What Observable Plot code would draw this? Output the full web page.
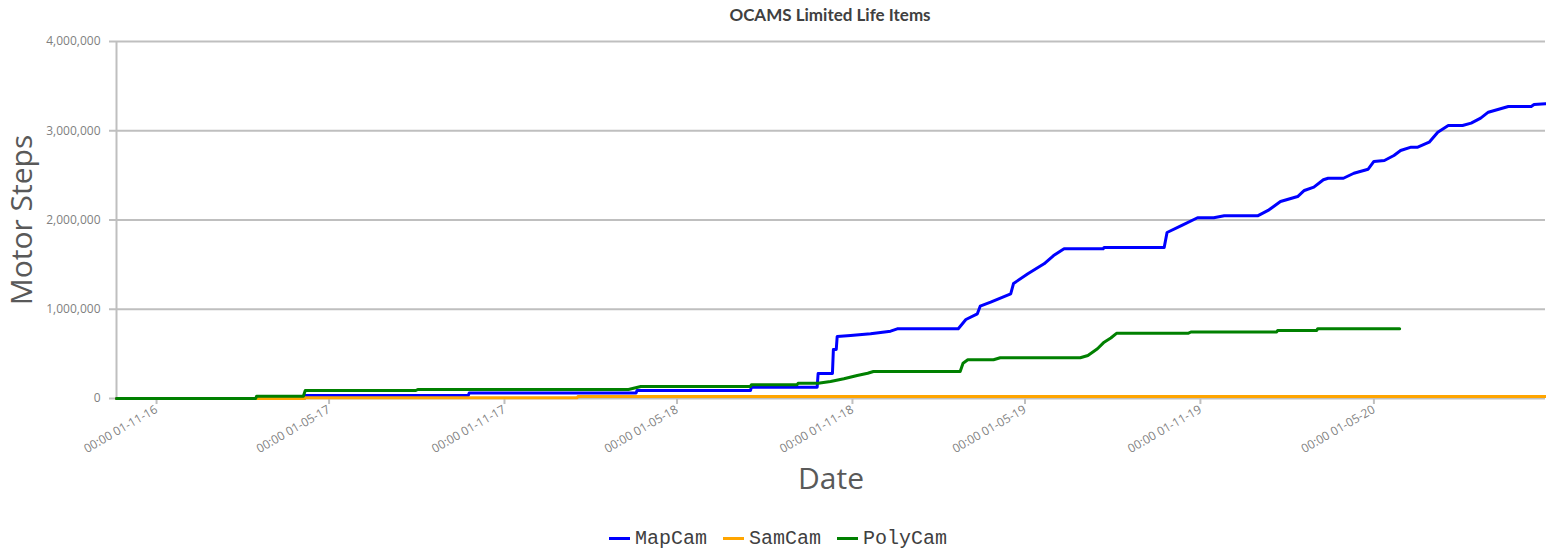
<!DOCTYPE html>
<html>
<head>
<meta charset="utf-8">
<script src="https://cdn.jsdelivr.net/npm/d3@7"></script>
<script src="https://cdn.jsdelivr.net/npm/@observablehq/plot@0.6"></script>
<style>
  body { margin: 0; background: #fff; width: 1546px; font-family: "Open Sans", sans-serif; }
  #title { height: 30px; line-height: 30px; text-align: center; padding-left: 114px; font-family: Lato, "Open Sans", sans-serif; font-weight: bold; font-size: 17px; color: #404040; }
  #chart { height: 480px; }
  #legend { height: 41px; box-sizing: border-box; padding-top: 16px; padding-left: 10px; display: flex; justify-content: center; align-items: center; font-family: "Liberation Mono", "DejaVu Sans Mono", monospace; font-size: 20px; color: #404040; }
  .item { display: flex; align-items: center; margin: 0 8px; }
  .sw { display: inline-block; width: 21px; height: 3px; margin-right: 5px; }
</style>
</head>
<body>
<div id="title">OCAMS Limited Life Items</div>
<div id="chart"></div>
<div id="legend"></div>
<script>
const seriesNames = ["MapCam", "SamCam", "PolyCam"];
const seriesColors = ["#0000ff", "#ffa500", "#008000"];

const mapCamDates = ["2016-09-20","2017-04-05","2017-04-06","2017-09-24","2017-09-25","2018-03-19","2018-03-20","2018-07-17","2018-07-18","2018-09-25","2018-09-26","2018-10-11","2018-10-12","2018-10-15","2018-10-16","2018-10-30","2018-11-20","2018-12-11","2018-12-18","2019-02-20","2019-02-28","2019-03-12","2019-03-15","2019-03-26","2019-04-16","2019-04-19","2019-05-04","2019-05-21","2019-05-31","2019-06-11","2019-07-22","2019-07-23","2019-09-24","2019-09-27","2019-10-12","2019-10-29","2019-11-15","2019-11-26","2019-12-31","2020-01-11","2020-01-24","2020-02-11","2020-02-18","2020-02-28","2020-03-09","2020-03-14","2020-03-30","2020-04-10","2020-04-25","2020-05-01","2020-05-12","2020-05-22","2020-05-29","2020-06-09","2020-06-16","2020-06-28","2020-07-07","2020-07-18","2020-08-02","2020-08-11","2020-08-21","2020-08-29","2020-09-19","2020-10-13","2020-10-16","2020-10-28"];
const mapCamSteps = [0,0,34000,34000,62000,62000,90000,90000,127000,127000,280000,280000,549000,549000,695000,706000,725000,754000,781000,781000,885000,949000,1034000,1079000,1173000,1289000,1397000,1509000,1602000,1677000,1677000,1692000,1692000,1860000,1938000,2025000,2025000,2047000,2047000,2107000,2207000,2263000,2331000,2368000,2451000,2468000,2468000,2524000,2569000,2656000,2667000,2723000,2779000,2816000,2816000,2872000,2984000,3059000,3059000,3085000,3141000,3208000,3272000,3272000,3294000,3302000];

const samCamDates = ["2016-09-20","2017-04-05","2017-04-06","2018-01-16","2018-01-17","2020-10-28"];
const samCamSteps = [0,0,8000,8000,22000,22000];

const polyCamDates = ["2016-09-20","2017-02-13","2017-02-14","2017-04-04","2017-04-06","2017-07-31","2017-08-02","2018-03-11","2018-03-24","2018-07-17","2018-07-18","2018-09-04","2018-09-05","2018-09-26","2018-10-09","2018-10-23","2018-11-06","2018-11-17","2018-11-23","2019-02-22","2019-02-25","2019-03-02","2019-03-29","2019-04-05","2019-06-28","2019-07-06","2019-07-16","2019-07-23","2019-07-30","2019-08-05","2019-10-19","2019-10-22","2020-01-20","2020-01-21","2020-03-02","2020-03-03","2020-05-28"];
const polyCamSteps = [0,0,26000,26000,90000,90000,101000,101000,134000,134000,155000,155000,171000,171000,190000,221000,258000,283000,302000,302000,395000,434000,434000,456000,456000,482000,557000,631000,678000,730000,730000,745000,745000,762000,762000,781000,781000];

const yTicks = [0, 1000000, 2000000, 3000000, 4000000];
const xTickDates = ["2016-11-01","2017-05-01","2017-11-01","2018-05-01","2018-11-01","2019-05-01","2019-11-01","2020-05-01"];

const parse = d3.utcParse("%Y-%m-%d");
function build(name, dates, steps) {
  return dates.map((d, i) => ({camera: name, date: parse(d), steps: steps[i]}));
}
const rows = [
  ...build("MapCam", mapCamDates, mapCamSteps),
  ...build("SamCam", samCamDates, samCamSteps),
  ...build("PolyCam", polyCamDates, polyCamSteps)
];
const xTicks = xTickDates.map(parse);
const xExtent = d3.extent(rows, d => d.date);

const chart = Plot.plot({
  width: 1546,
  height: 480,
  marginTop: 11,
  marginBottom: 112,
  marginLeft: 116,
  marginRight: 1,
  style: {fontFamily: '"Open Sans", sans-serif', background: "white"},
  x: {type: "utc", domain: xExtent},
  y: {domain: [0, 4000000]},
  color: {domain: seriesNames, range: seriesColors},
  marks: [
    Plot.gridY({ticks: yTicks, stroke: "#bfbfbf", strokeOpacity: 1, strokeWidth: 2}),
    Plot.ruleX([xExtent[0]], {stroke: "#bfbfbf", strokeWidth: 2}),
    Plot.axisY({ticks: yTicks, tickFormat: d3.format(","), tickSize: 7, tickPadding: 9, stroke: "#bfbfbf", strokeWidth: 2, fill: "#7f7f7f", fontSize: 12, label: null}),
    Plot.axisX({ticks: xTicks, tickFormat: d3.utcFormat("%H:%M %d-%m-%y"), tickSize: 6, tickPadding: 4, tickRotate: -30, stroke: "#bfbfbf", strokeWidth: 2, fill: "#7f7f7f", fontSize: 12, label: null}),
    Plot.line(rows, {x: "date", y: "steps", z: "camera", stroke: "camera", strokeWidth: 3}),
    Plot.text(["Date"], {frameAnchor: "bottom", lineAnchor: "middle", textAnchor: "middle", dy: 81, fontSize: 30, fill: "#595959"}),
    Plot.text(["Motor Steps"], {frameAnchor: "left", textAnchor: "middle", lineAnchor: "middle", dx: -94, rotate: -90, fontSize: 30, fill: "#595959"})
  ]
});
document.getElementById("chart").appendChild(chart);

const legend = document.getElementById("legend");
seriesNames.forEach((n, i) => {
  const item = document.createElement("span");
  item.className = "item";
  const sw = document.createElement("span");
  sw.className = "sw";
  sw.style.background = seriesColors[i];
  item.appendChild(sw);
  item.appendChild(document.createTextNode(n));
  legend.appendChild(item);
});
</script>
</body>
</html>
